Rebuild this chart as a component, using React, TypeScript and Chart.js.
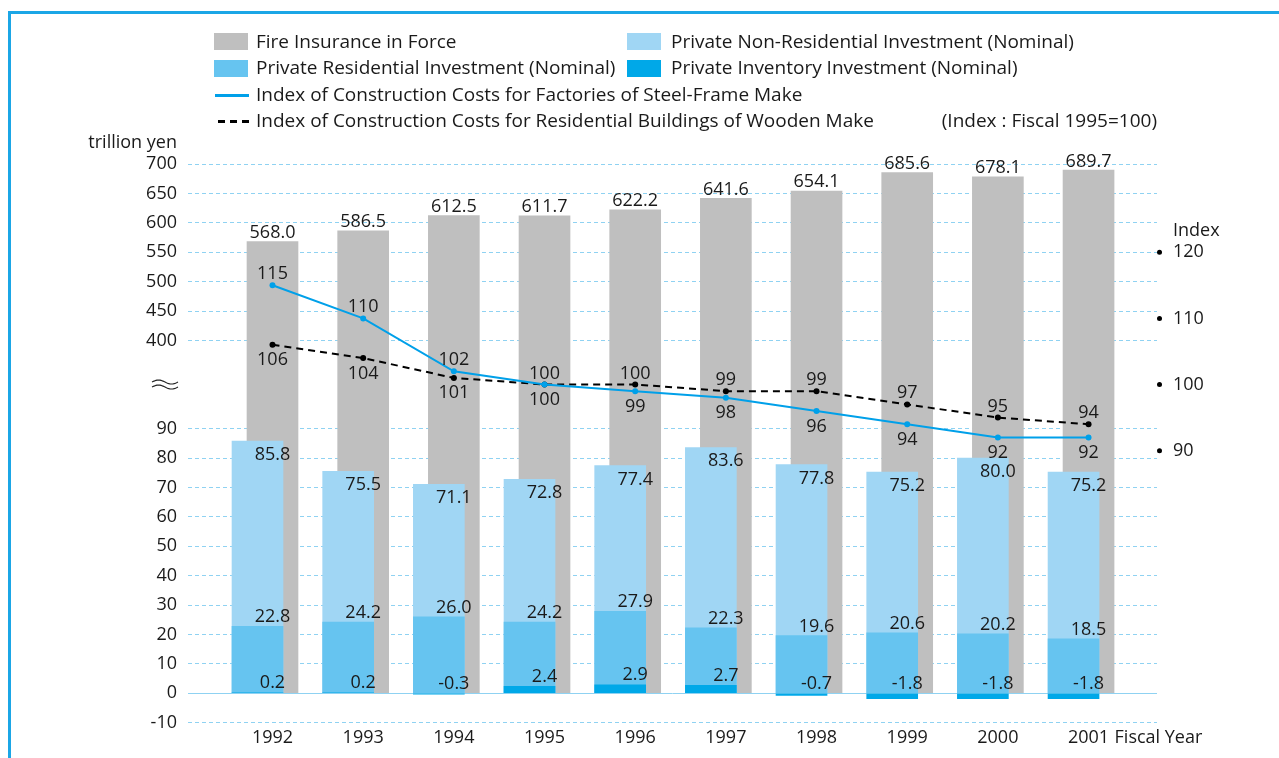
import React, { useEffect, useRef } from 'react';
import { Chart, registerables } from 'chart.js';

Chart.register(...registerables);

const years = ['1992', '1993', '1994', '1995', '1996', '1997', '1998', '1999', '2000', '2001'];
const fireInsurance = [568.0, 586.5, 612.5, 611.7, 622.2, 641.6, 654.1, 685.6, 678.1, 689.7];
const nonResidential = [85.8, 75.5, 71.1, 72.8, 77.4, 83.6, 77.8, 75.2, 80.0, 75.2];
const residential = [22.8, 24.2, 26.0, 24.2, 27.9, 22.3, 19.6, 20.6, 20.2, 18.5];
const inventory = [0.2, 0.2, -0.3, 2.4, 2.9, 2.7, -0.7, -1.8, -1.8, -1.8];
const steelIndex = [115, 110, 102, 100, 99, 98, 96, 94, 92, 92];
const woodenIndex = [106, 104, 101, 100, 100, 99, 99, 97, 95, 94];
const steelLabelAbove = [true, true, true, true, false, false, false, false, false, false];
const woodenLabelAbove = [false, false, false, false, true, true, true, true, true, true];
const leftTicks = [-10, 0, 10, 20, 30, 40, 50, 60, 70, 80, 90, 400, 450, 500, 550, 600, 650, 700];
const rightTicks = [90, 100, 110, 120];

// broken axis: lower part 10 units per step, upper part 50 units per step
const toV = (real: number) => (real <= 90 ? real / 10 : 12 + (real - 400) / 50);

const FONT_FAMILY = '"Open Sans", "Noto Sans", sans-serif';
const FS = 18;
const LFS = 19;
const TEXT = '#1a1a1a';
const GRAY = '#bfbfbf';
const LIGHT = '#a0d6f4';
const MID = '#66c4f0';
const DARK = '#00a8e8';
const STEEL = '#00a0e9';
const GRID = '#8fd2f2';
const FRAME = '#1ba6e6';

const X_MIN = -0.932;
const X_MAX = 9.755;
const OFFSET = 15 / 90.67;
const R_MIN = 100 - (11.5 * 40) / 9;
const R_MAX = 100 + (7.5 * 40) / 9;

const labelPlugin = {
  id: 'customLabels',
  afterDatasetsDraw(chart: any) {
    const ctx = chart.ctx;
    const x = chart.scales.x;
    const y = chart.scales.y;
    const y2 = chart.scales.y2;
    ctx.save();
    ctx.font = `${FS}px ${FONT_FAMILY}`;
    ctx.fillStyle = TEXT;
    ctx.textAlign = 'center';
    ctx.textBaseline = 'alphabetic';
    const zero = y.getPixelForValue(0);
    years.forEach((_, i) => {
      const cx = x.getPixelForValue(i);
      ctx.fillText(fireInsurance[i].toFixed(1), cx, y.getPixelForValue(toV(fireInsurance[i])) - 3.5);
      ctx.fillText(nonResidential[i].toFixed(1), cx, y.getPixelForValue(toV(nonResidential[i])) + 19);
      ctx.fillText(residential[i].toFixed(1), cx, y.getPixelForValue(toV(residential[i])) - 4);
      const invTop = Math.min(y.getPixelForValue(toV(inventory[i])), zero);
      ctx.fillText(inventory[i].toFixed(1), cx, invTop - 4.5);
      const sy = y2.getPixelForValue(steelIndex[i]);
      ctx.fillText(String(steelIndex[i]), cx, steelLabelAbove[i] ? sy - 6 : sy + 20.5);
      const wy = y2.getPixelForValue(woodenIndex[i]);
      ctx.fillText(String(woodenIndex[i]), cx, woodenLabelAbove[i] ? wy - 6 : wy + 20.5);
    });
    // Fiscal Year axis title
    ctx.textAlign = 'left';
    ctx.textBaseline = 'middle';
    ctx.fillText('Fiscal Year', x.getPixelForValue(9) + 26, x.top + 4 + FS * 0.6);
    // right axis dots
    ctx.fillStyle = '#000';
    rightTicks.forEach((t) => {
      ctx.beginPath();
      ctx.arc(chart.chartArea.right + 2.5, y2.getPixelForValue(t), 2.5, 0, Math.PI * 2);
      ctx.fill();
    });
    // axis break symbol
    const by = y.getPixelForValue(10.5);
    const bx0 = chart.chartArea.left - 36;
    const bw = 26;
    ctx.strokeStyle = '#222';
    ctx.lineWidth = 1.2;
    [-2.5, 2.5].forEach((dy) => {
      ctx.beginPath();
      for (let k = 0; k <= 26; k++) {
        const px = bx0 + (k / 26) * bw;
        const py = by + dy - 2 * Math.sin((k / 26) * Math.PI * 2);
        if (k === 0) ctx.moveTo(px, py);
        else ctx.lineTo(px, py);
      }
      ctx.stroke();
    });
    ctx.restore();
  },
};

export default function App() {
  const ref = useRef<HTMLCanvasElement>(null);
  useEffect(() => {
    const font = { family: FONT_FAMILY, size: FS, lineHeight: 1.2 };
    const barCommon = {
      grouped: false,
      barPercentage: 1,
      categoryPercentage: 1,
      maxBarThickness: 51,
      borderWidth: 0,
      yAxisID: 'y',
    };
    const chart = new Chart(ref.current!, {
      type: 'bar',
      data: {
        datasets: [
          {
            type: 'line',
            label: 'Index of Construction Costs for Factories of Steel-Frame Make',
            data: steelIndex.map((v, i) => ({ x: i, y: v })),
            xAxisID: 'x',
            yAxisID: 'y2',
            borderColor: STEEL,
            backgroundColor: STEEL,
            borderWidth: 2,
            pointRadius: 3,
            pointBorderWidth: 0,
            pointBackgroundColor: STEEL,
            tension: 0,
          } as any,
          {
            type: 'line',
            label: 'Index of Construction Costs for Residential Buildings of Wooden Make',
            data: woodenIndex.map((v, i) => ({ x: i, y: v })),
            xAxisID: 'x',
            yAxisID: 'y2',
            borderColor: '#000',
            backgroundColor: '#000',
            borderWidth: 2,
            borderDash: [7, 5],
            pointRadius: 3,
            pointBorderWidth: 0,
            pointBackgroundColor: '#000',
            tension: 0,
          } as any,
          {
            ...barCommon,
            label: 'Private Inventory Investment (Nominal)',
            data: inventory.map((v, i) => ({ x: i, y: toV(v) })),
            xAxisID: 'xb',
            backgroundColor: DARK,
          } as any,
          {
            ...barCommon,
            label: 'Private Residential Investment (Nominal)',
            data: residential.map((v, i) => ({ x: i, y: toV(v) })),
            xAxisID: 'xb',
            backgroundColor: MID,
          } as any,
          {
            ...barCommon,
            label: 'Private Non-Residential Investment (Nominal)',
            data: nonResidential.map((v, i) => ({ x: i, y: toV(v) })),
            xAxisID: 'xb',
            backgroundColor: LIGHT,
          } as any,
          {
            ...barCommon,
            label: 'Fire Insurance in Force',
            data: fireInsurance.map((v, i) => ({ x: i, y: toV(v) })),
            xAxisID: 'x',
            backgroundColor: GRAY,
          } as any,
        ],
      },
      options: {
        responsive: false,
        animation: false,
        events: [],
        layout: { padding: { top: 164, left: 0, right: 0, bottom: 0 } },
        plugins: { legend: { display: false }, tooltip: { enabled: false }, title: { display: false } },
        scales: {
          x: {
            type: 'linear',
            position: 'bottom',
            offset: false,
            min: X_MIN,
            max: X_MAX,
            afterBuildTicks: (s: any) => {
              s.ticks = years.map((_, i) => ({ value: i }));
            },
            afterFit: (s: any) => {
              s.height = 35.3;
            },
            ticks: {
              callback: (_v: any, i: number) => years[i],
              font,
              color: TEXT,
              padding: 4,
              autoSkip: false,
              maxRotation: 0,
            },
            grid: { display: false, drawTicks: false, offset: false },
            border: { display: false },
          },
          xb: {
            type: 'linear',
            display: false,
            offset: false,
            min: X_MIN + OFFSET,
            max: X_MAX + OFFSET,
            afterBuildTicks: (s: any) => {
              s.ticks = years.map((_, i) => ({ value: i }));
            },
            grid: { display: false, offset: false },
          },
          y: {
            type: 'linear',
            position: 'left',
            min: -1,
            max: 18,
            afterBuildTicks: (s: any) => {
              s.ticks = leftTicks.map((t) => ({ value: toV(t) }));
            },
            afterFit: (s: any) => {
              s.width = 188;
            },
            ticks: {
              callback: (_v: any, i: number) => String(leftTicks[i]),
              font,
              color: TEXT,
              padding: 11,
              autoSkip: false,
            },
            grid: { color: GRID, lineWidth: 1, drawTicks: false },
            border: {
              display: false,
              dash: (c: any) => (c.tick && Math.abs(c.tick.value) < 1e-9 ? [] : [4, 3]),
            },
          },
          y2: {
            type: 'linear',
            position: 'right',
            min: R_MIN,
            max: R_MAX,
            afterBuildTicks: (s: any) => {
              s.ticks = rightTicks.map((t) => ({ value: t }));
            },
            afterFit: (s: any) => {
              s.width = 122;
            },
            ticks: {
              callback: (_v: any, i: number) => String(rightTicks[i]),
              font,
              color: TEXT,
              padding: 16,
              autoSkip: false,
            },
            grid: { drawOnChartArea: false, drawTicks: false },
            border: { display: false },
          },
        },
      } as any,
      plugins: [labelPlugin],
    });
    return () => chart.destroy();
  }, []);

  const textStyle = (left: number, center: number, align: 'left' | 'right' = 'left', size = LFS, width = 700): React.CSSProperties => ({
    position: 'absolute',
    top: center - size * 0.7,
    left: align === 'left' ? left : left - width,
    width,
    textAlign: align,
    fontSize: size,
    lineHeight: `${Math.round(size * 1.33)}px`,
    whiteSpace: 'nowrap',
  });
  const swatch = (left: number, center: number, color: string): React.CSSProperties => ({
    position: 'absolute',
    left,
    top: center - 8.5,
    width: 34,
    height: 17,
    background: color,
  });
  const rows = [41.8, 68.6, 95, 121.3];

  return (
    <div
      style={{
        position: 'absolute',
        left: 0,
        top: 0,
        width: 1279,
        height: 758,
        overflow: 'hidden',
        background: '#fff',
        fontFamily: FONT_FAMILY,
        color: TEXT,
      }}
    >
      <canvas ref={ref} width={1279} height={758} style={{ position: 'absolute', left: 0, top: 0 }} />
      <div style={{ position: 'absolute', left: 8, top: 11, width: 1280, height: 760, borderLeft: `3px solid ${FRAME}`, borderTop: `3px solid ${FRAME}` }} />
      <div style={swatch(214, rows[0], GRAY)} />
      <div style={textStyle(256, rows[0])}>Fire Insurance in Force</div>
      <div style={swatch(627, rows[0], LIGHT)} />
      <div style={textStyle(671, rows[0])}>Private Non-Residential Investment (Nominal)</div>
      <div style={swatch(214, rows[1], MID)} />
      <div style={textStyle(256, rows[1])}>Private Residential Investment (Nominal)</div>
      <div style={swatch(627, rows[1], DARK)} />
      <div style={textStyle(671, rows[1])}>Private Inventory Investment (Nominal)</div>
      <div style={{ position: 'absolute', left: 215, top: rows[2] - 1.5, width: 34, height: 3, background: STEEL }} />
      <div style={textStyle(256, rows[2])}>Index of Construction Costs for Factories of Steel-Frame Make</div>
      {[218, 230, 242].map((l) => (
        <div key={l} style={{ position: 'absolute', left: l, top: rows[3] - 1.3, width: 7, height: 2.6, background: '#000' }} />
      ))}
      <div style={textStyle(256, rows[3])}>Index of Construction Costs for Residential Buildings of Wooden Make</div>
      <div style={textStyle(1157, rows[3], 'right')}>(Index : Fiscal 1995=100)</div>
      <div style={textStyle(177, 141.5, 'right', FS, 200)}>trillion yen</div>
      <div style={textStyle(1173, 230, 'left', FS)}>Index</div>
    </div>
  );
}
